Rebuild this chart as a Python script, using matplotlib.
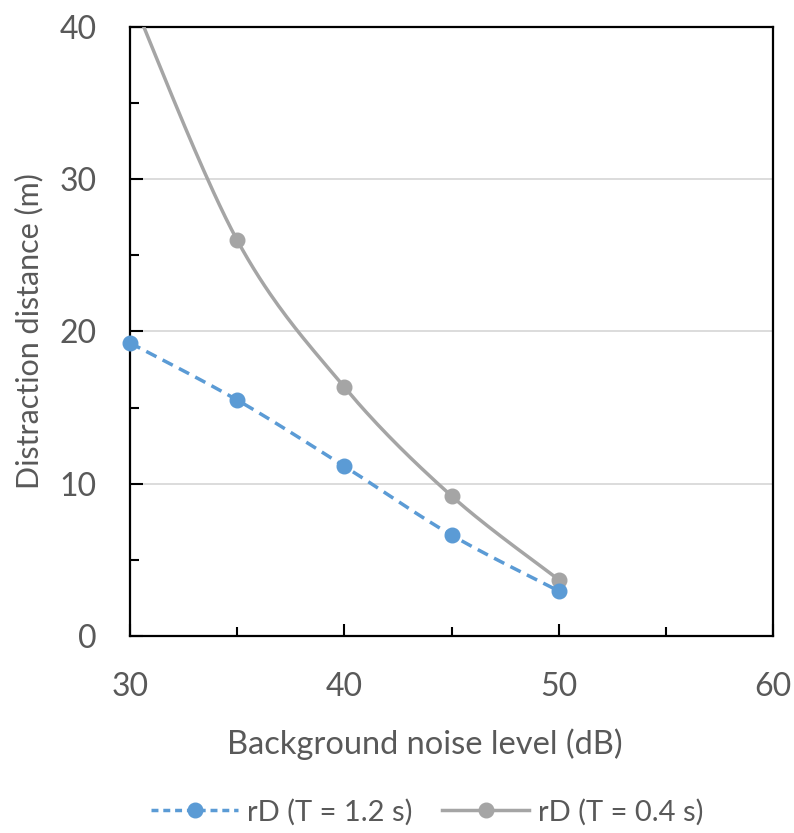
import numpy as np
import matplotlib.pyplot as plt
from matplotlib.lines import Line2D

plt.rcParams['font.family'] = ['Lato', 'DejaVu Sans']

noise_db = [30, 35, 40, 45, 50]
rd_t12 = [19.25, 15.5, 11.15, 6.63, 2.96]
rd_t04 = [42.2, 26.0, 16.35, 9.2, 3.7]

blue = '#5B9BD5'
grey = '#A5A5A5'
txt = '#595959'


def smooth(x, y, n=40):
    # Bezier smoothing through every point, like a spreadsheet "smoothed line"
    x = np.asarray(x, float)
    y = np.asarray(y, float)
    px, py = [], []
    for i in range(len(x) - 1):
        x0, y0 = x[max(i - 1, 0)], y[max(i - 1, 0)]
        x3, y3 = x[min(i + 2, len(x) - 1)], y[min(i + 2, len(x) - 1)]
        c1x = x[i] + (x[i + 1] - x0) / 6
        c1y = y[i] + (y[i + 1] - y0) / 6
        c2x = x[i + 1] - (x3 - x[i]) / 6
        c2y = y[i + 1] - (y3 - y[i]) / 6
        t = np.linspace(0, 1, n)
        b = [(1 - t) ** 3, 3 * (1 - t) ** 2 * t, 3 * (1 - t) * t ** 2, t ** 3]
        px.extend(b[0] * x[i] + b[1] * c1x + b[2] * c2x + b[3] * x[i + 1])
        py.extend(b[0] * y[i] + b[1] * c1y + b[2] * c2y + b[3] * y[i + 1])
    return px, py


fig = plt.figure(figsize=(7.94, 8.33), dpi=100)
ax = fig.add_axes([0.1637, 0.2365, 0.8099, 0.7311])

sx, sy = smooth(noise_db, rd_t04)
ax.plot(sx, sy, color=grey, lw=2.5, zorder=3)
ax.plot(noise_db, rd_t04, 'o', color=grey, ms=10.5, zorder=4)

bx, by = smooth(noise_db, rd_t12)
ax.plot(bx, by, color=blue, lw=2.5, dashes=(3.3, 2.0), zorder=3)
ax.plot(noise_db, rd_t12, 'o', color=blue, ms=10.5, zorder=4, clip_on=False)

ax.set_xlim(30, 60)
ax.set_ylim(0, 40)
ax.set_xticks([30, 40, 50, 60])
ax.set_xticks([35, 45, 55], minor=True)
ax.set_yticks([0, 10, 20, 30, 40])
ax.set_yticks([5, 15, 25, 35], minor=True)
ax.grid(axis='y', which='major', color='#D9D9D9', lw=1.3)
ax.set_axisbelow(True)

for s in ax.spines.values():
    s.set_linewidth(1.6)
    s.set_color('black')

ax.tick_params(which='major', direction='in', length=9, width=1.5,
               labelsize=23, labelcolor=txt)
ax.tick_params(which='minor', direction='in', length=6.5, width=1.5)
ax.tick_params(axis='x', which='major', pad=26)
ax.tick_params(axis='y', which='major', pad=24)

ax.set_xlabel('Background noise level (dB)', fontsize=23.5, color=txt)
ax.set_ylabel('Distraction distance (m)', fontsize=22, color=txt)
ax.xaxis.set_label_coords(0.459, -0.152)
ax.yaxis.set_label_coords(-0.134, 0.5)

handles = [
    Line2D([], [], color=blue, lw=2.5, dashes=(2.0, 1.4), marker='o', ms=10.5),
    Line2D([], [], color=grey, lw=2.5, marker='o', ms=10.5),
]
fig.legend(handles, ['rD (T = 1.2 s)', 'rD (T = 0.4 s)'], loc='center',
           bbox_to_anchor=(0.538, 0.025), ncol=2, frameon=False, fontsize=21,
           labelcolor=txt, handlelength=3.0, handletextpad=0.3, columnspacing=1.0)

fig.savefig('out.png', dpi=100)
